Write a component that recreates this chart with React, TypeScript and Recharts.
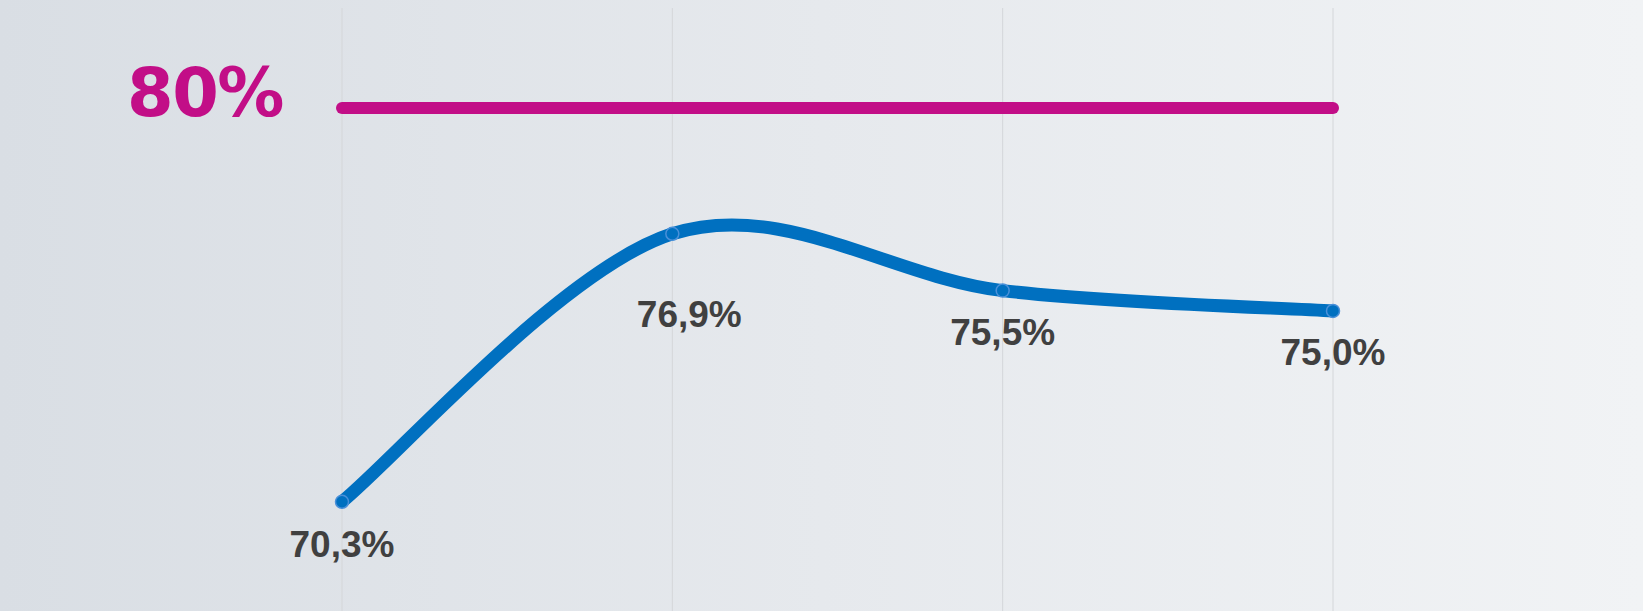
import { LineChart, Line, XAxis, YAxis, CartesianGrid, LabelList } from "recharts"

const periods = ["P1", "P2", "P3", "P4"]
const actual = [70.3, 76.9, 75.5, 75.0]
const target = [80, 80, 80, 80]

// nudges used in the original so the 2nd label does not sit on the curve
const labelNudge = [
  { dx: 0, dy: 55 },
  { dx: 17, dy: 93 },
  { dx: 0, dy: 54 },
  { dx: 0, dy: 54 },
]

const chartData = periods.map((p, i) => ({ period: p, actual: actual[i], target: target[i] }))

const fmt = (v: number) => v.toFixed(1).replace(".", ",") + "%"

// office-style smoothed line (catmull-rom, control points at 1/6 of neighbour span)
function smoothCurve(context: any) {
  let pts: number[][] = []
  return {
    areaStart() {},
    areaEnd() {},
    lineStart() {
      pts = []
    },
    point(x: number, y: number) {
      pts.push([+x, +y])
    },
    lineEnd() {
      if (!pts.length) return
      context.moveTo(pts[0][0], pts[0][1])
      for (let i = 0; i < pts.length - 1; i++) {
        const p0 = pts[i - 1] || pts[i]
        const p1 = pts[i]
        const p2 = pts[i + 1]
        const p3 = pts[i + 2] || p2
        context.bezierCurveTo(
          p1[0] + (p2[0] - p0[0]) / 6,
          p1[1] + (p2[1] - p0[1]) / 6,
          p2[0] - (p3[0] - p1[0]) / 6,
          p2[1] - (p3[1] - p1[1]) / 6,
          p2[0],
          p2[1]
        )
      }
    },
  }
}

function ValueLabel(props: any) {
  const { x, y, value, index } = props
  const n = labelNudge[index] || { dx: 0, dy: 55 }
  return (
    <text
      x={x + n.dx}
      y={y + n.dy}
      textAnchor="middle"
      fill="#404040"
      fontSize={37}
      fontWeight="bold"
      fontFamily="'Liberation Sans', Arial, sans-serif"
    >
      {fmt(value)}
    </text>
  )
}

function TargetLabel(props: any) {
  const { x, y, value, index } = props
  if (index !== 0) return null
  return (
    <text
      x={x - 59}
      y={y + 8}
      textAnchor="end"
      fill="#C20E87"
      fontSize={67}
      fontWeight="bold"
      letterSpacing={-1.5}
      fontFamily="'DejaVu Sans', sans-serif"
    >
      {value}%
    </text>
  )
}

export default function App() {
  return (
    <div
      style={{
        position: "absolute",
        left: 0,
        top: 0,
        width: 1643,
        height: 611,
        background: "linear-gradient(90deg, #D9DEE4 0%, #E6E9ED 50%, #F1F3F5 100%)",
      }}
    >
      <style>{"body{margin:0}"}</style>
      <LineChart width={1643} height={611} data={chartData} margin={{ top: 8, right: 310, bottom: 0, left: 342 }}>
        <CartesianGrid vertical horizontal={false} stroke="#D4D6D9" strokeWidth={1} />
        <XAxis dataKey="period" hide />
        <YAxis hide domain={[67.61, 82.46]} />
        <Line
          dataKey="target"
          stroke="#C20E87"
          strokeWidth={12}
          strokeLinecap="round"
          dot={false}
          isAnimationActive={false}
        >
          <LabelList dataKey="target" content={TargetLabel} />
        </Line>
        <Line
          type={smoothCurve as any}
          dataKey="actual"
          stroke="#0070C0"
          strokeWidth={13}
          strokeLinecap="round"
          dot={{ r: 6.5, fill: "#0070C0", stroke: "#4A90D9", strokeWidth: 1.5 }}
          isAnimationActive={false}
        >
          <LabelList dataKey="actual" content={ValueLabel} />
        </Line>
      </LineChart>
    </div>
  )
}
